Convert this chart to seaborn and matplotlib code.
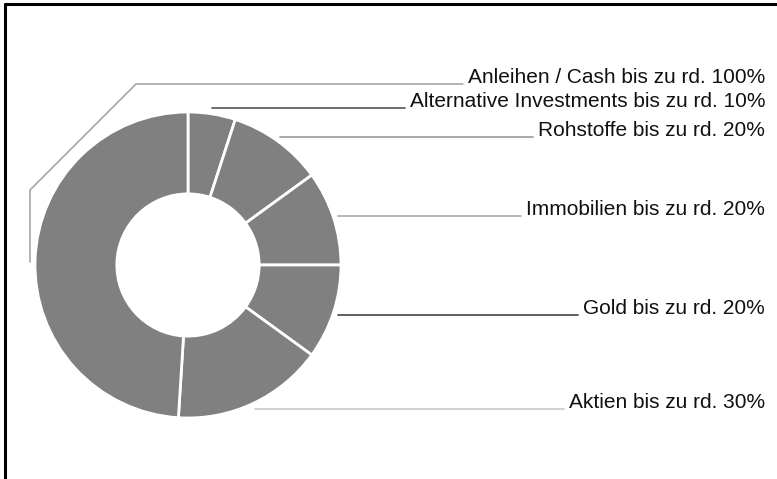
import matplotlib
matplotlib.use("Agg")
import matplotlib.pyplot as plt
from matplotlib.lines import Line2D
import seaborn as sns

# ---- data (clockwise from 12 o'clock), shares read from the ring ----
categories = ["Alternative Investments", "Rohstoffe", "Immobilien", "Gold", "Aktien", "Anleihen / Cash"]
values = [5, 10, 10, 10, 16, 49]
labels = ["Alternative Investments bis zu rd. 10%", "Rohstoffe bis zu rd. 20%",
          "Immobilien bis zu rd. 20%", "Gold bis zu rd. 20%",
          "Aktien bis zu rd. 30%", "Anleihen / Cash bis zu rd. 100%"]

sns.set_theme(style="white")
plt.rcParams['font.family'] = ['Liberation Sans', 'DejaVu Sans']

W, H = 777, 479
fig = plt.figure(figsize=(W / 100, H / 100), dpi=100)
fig.patch.set_facecolor("white")

def fx(px):
    return px / W

def fy(py):
    return 1 - py / H

# donut: centre (188,265) px, outer radius 153 px
cx, cy, R = 188, 265, 153
ax = fig.add_axes([fx(cx - R), fy(cy + R), 2 * R / W, 2 * R / H])
grey = sns.color_palette(["#808080"])[0]
ax.pie(values, startangle=90, counterclock=False, colors=[grey] * len(values),
       radius=1.0, wedgeprops=dict(width=0.535, edgecolor="white", linewidth=2.0))
ax.set_xlim(-1, 1)
ax.set_ylim(-1, 1)
ax.set_aspect("equal")
ax.axis("off")

# ---- labels & leader lines (layout in pixels) ----
fs = 15
text_right = 765
# (label index, leader start points (px), line y, colour)
leaders = [
    (5, [(30, 262), (30, 190), (136, 84)], 84, "#a6a6a6"),
    (0, [(212, 108)], 108, "#555555"),
    (1, [(280, 137)], 137, "#999999"),
    (2, [(338, 216)], 216, "#aaaaaa"),
    (3, [(338, 315)], 315, "#444444"),
    (4, [(255, 409)], 409, "#c8c8c8"),
]
fig.canvas.draw()
renderer = fig.canvas.get_renderer()
for idx, pts, ly, col in leaders:
    t = fig.text(fx(text_right), fy(ly - 1), labels[idx], ha="right", va="baseline",
                 fontsize=fs, color="#111111")
    bb = t.get_window_extent(renderer=renderer)
    x_end = bb.x0 - 5
    xs = [p[0] for p in pts] + [x_end]
    ys = [p[1] for p in pts] + [ly]
    fig.add_artist(Line2D([fx(x) for x in xs], [fy(y) for y in ys],
                          transform=fig.transFigure, color=col, linewidth=1.2))

# ---- frame (top and left only) ----
fig.add_artist(Line2D([fx(5), fx(777)], [fy(4), fy(4)], transform=fig.transFigure,
                      color="black", linewidth=2.2))
fig.add_artist(Line2D([fx(5), fx(5)], [fy(4), fy(479)], transform=fig.transFigure,
                      color="black", linewidth=2.2))

fig.savefig("out.png", dpi=100, facecolor="white")
